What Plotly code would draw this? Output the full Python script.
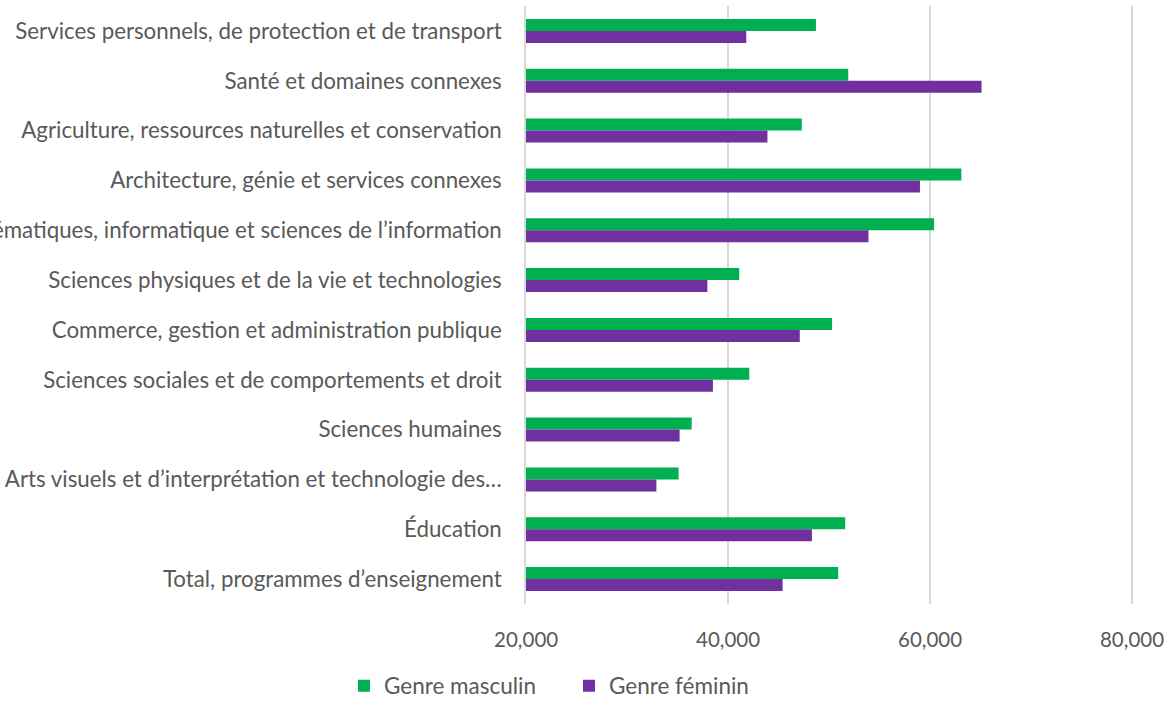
import plotly.graph_objects as go

# catégories, du haut vers le bas
categories = [
    "Services personnels, de protection et de transport",
    "Santé et domaines connexes",
    "Agriculture, ressources naturelles et conservation",
    "Architecture, génie et services connexes",
    "Mathématiques, informatique et sciences de l’information",
    "Sciences physiques et de la vie et technologies",
    "Commerce, gestion et administration publique",
    "Sciences sociales et de comportements et droit",
    "Sciences humaines",
    "Arts visuels et d’interprétation et technologie des…",
    "Éducation",
    "Total, programmes d’enseignement",
]
masculin = [48700, 51900, 47300, 63100, 60400, 41100, 50300, 42100, 36400, 35100, 51600, 50900]
feminin = [41800, 65100, 43900, 59000, 53900, 37950, 47100, 38500, 35200, 32900, 48300, 45400]

tick_vals = [20000, 40000, 60000, 80000]
tick_text = ["20,000", "40,000", "60,000", "80,000"]

police = "Lato, Calibri, Carlito, sans-serif"
gris = "#595959"

fig = go.Figure()
fig.add_trace(go.Bar(y=categories, x=masculin, name="Genre masculin", orientation="h",
                     marker=dict(color="#00B050", line=dict(width=0))))
fig.add_trace(go.Bar(y=categories, x=feminin, name="Genre féminin", orientation="h",
                     marker=dict(color="#7030A0", line=dict(width=0))))

fig.update_layout(
    width=1170, height=701,
    margin=dict(l=526, r=0, t=6, b=97, autoexpand=False),
    plot_bgcolor="white", paper_bgcolor="white",
    barmode="group", bargap=0.52, bargroupgap=0,
    font=dict(family=police, size=19, color=gris),
    showlegend=True,
    legend=dict(orientation="h", xref="container", yref="container",
                x=0.294, y=0.052, xanchor="left", yanchor="top",
                font=dict(size=22.5, color=gris), itemwidth=30,
                entrywidthmode="pixels", entrywidth=180),
    xaxis=dict(range=[19990, 83760], tickvals=tick_vals, ticktext=tick_text,
               showgrid=True, gridcolor="#D9D9D9", gridwidth=1.5,
               zeroline=False, showline=False, ticks="", automargin=False,
               ticklabelstandoff=21, tickfont=dict(size=20.5, color=gris)),
    yaxis=dict(autorange="reversed", showgrid=False, showline=True,
               linecolor="#D9D9D9", linewidth=1.5, ticks="", automargin=False,
               ticklabelstandoff=18, tickfont=dict(size=22.3, color=gris)),
)

# la page html ajoute une marge de 8px autour du graphique : on l'enlève
fig.write_html("out.html", config={"displayModeBar": False},
               post_script="document.body.style.margin='0px';")
